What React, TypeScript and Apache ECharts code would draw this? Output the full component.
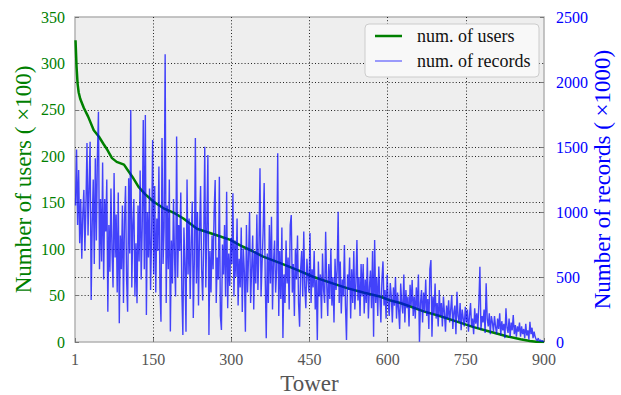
import React, { useEffect, useRef } from "react";
import * as echarts from "echarts";

// Green series: number of users (x100), [tower, value]
const usersData: [number, number][] = [
  [1, 325], [3, 296], [5, 278], [7, 269], [10, 262], [17, 252], [25, 243], [36, 228],
  [46, 221], [55, 213], [62, 207], [71, 198], [80, 194], [94, 191], [100, 186], [110, 178],
  [122, 167], [135, 159], [151, 151], [170, 144], [190, 139], [208, 133], [234, 122],
  [272, 115], [298, 110], [317, 104], [340, 98], [361, 92], [394, 85], [425, 78], [458, 70],
  [490, 64], [522, 58], [555, 53], [585, 49], [604, 45], [624, 42], [645, 38], [669, 33],
  [700, 28], [733, 22], [765, 16], [797, 11], [830, 6], [855, 3], [873, 1], [885, 0.3], [900, 0],
];

// Blue series: number of records (x1000), one value every 2 towers starting at tower 1
const recordsValues: number[] = [
  1050, 1480, 900, 1323, 760, 1100, 640, 980, 1170, 700, 1050, 1530, 820, 1200, 1541, 323, 900, 1250, 600, 1413, 780, 1438, 1771, 560, 1100,
  620, 1380, 480, 1100, 850, 1250, 233, 900, 540, 1180, 700, 420, 1300, 650, 980, 380, 1150, 144, 820, 560, 1050, 300, 940, 1200, 480,
  233, 1259, 680, 1785, 420, 900, 1100, 350, 760, 298, 1050, 620, 1320, 480, 880, 1708, 560, 1746, 208, 1000, 650, 1180, 400, 820, 1554,
  520, 1200, 380, 950, 700, 1350, 420, 156, 1570, 600, 880, 2213, 300, 1050, 560, 1250, 80, 780, 450, 1100, 650, 350, 1580, 500, 900,
  700, 1150, 400, 54, 880, 600, 79, 1250, 520, 950, 330, 760, 1080, 185, 620, 1569, 450, 1000, 280, 850, 1200, 560, 320, 780, 1502,
  420, 900, 1438, 54, 700, 380, 820, 560, 1000, 1246, 300, 650, 480, 1272, 200, 92, 750, 520, 900, 350, 1156, 260, 680, 430, 800,
  600, 1144, 350, 780, 500, 950, 280, 640, 420, 880, 230, 720, 540, 79, 900, 380, 650, 1000, 300, 560, 820, 250, 700, 450, 980,
  400, 720, 1336, 350, 600, 850, 1223, 500, 28, 680, 300, 900, 450, 964, 250, 620, 780, 380, 560, 1451, 200, 700, 330, 880, 31,
  520, 300, 780, 450, 650, 250, 900, 977, 380, 600, 200, 720, 480, 820, 300, 118, 560, 700, 350, 850, 420, 260, 640, 500, 380,
  838, 300, 560, 420, 700, 250, 480, 15, 620, 350, 520, 180, 680, 400, 300, 848, 450, 200, 600, 330, 720, 280, 500, 150, 640,
  400, 550, 1002, 300, 620, 220, 480, 350, 746, 280, 15, 520, 400, 650, 180, 560, 300, 700, 250, 450, 785, 320, 500, 200, 600,
  350, 600, 220, 480, 300, 650, 180, 420, 550, 260, 700, 41, 785, 300, 500, 200, 580, 350, 150, 480, 620, 280, 400, 180, 520,
  300, 200, 454, 350, 150, 420, 280, 500, 180, 380, 250, 100, 450, 300, 220, 520, 150, 400, 260, 350, 120, 440, 280, 477, 200,
  350, 180, 420, 250, 520, 2, 300, 400, 150, 380, 230, 480, 200, 330, 100, 560, 631, 41, 350, 220, 450, 180, 300, 120, 400,
  200, 300, 120, 350, 220, 80, 280, 180, 320, 150, 250, 361, 100, 230, 280, 60, 387, 200, 150, 300, 90, 250, 180, 120, 270,
  150, 250, 80, 200, 300, 120, 180, 60, 260, 140, 220, 100, 300, 579, 90, 200, 150, 250, 70, 451, 180, 120, 220, 60, 200,
  150, 80, 200, 120, 60, 180, 100, 220, 50, 160, 90, 140, 30, 259, 110, 70, 180, 40, 150, 90, 208, 60, 130, 40, 120,
  80, 150, 40, 120, 60, 100, 30, 140, 50, 90, 20, 156, 60, 110, 30, 80, 40, 20, 10, 30, 5, 15, 5, 10, 0,
];
const recordsStart = 1;
const recordsStep = 2;

const xTicks = [0, 150, 300, 450, 600, 750, 900];
const leftTicks = [0, 50, 100, 150, 200, 250, 300, 350];
const rightTicks = [0, 500, 1000, 1500, 2000, 2500];

const legendLabels = ["num. of users", "num. of records"];

const FONT = "'Liberation Serif', 'DejaVu Serif', serif";
const GREEN = "#008000";
const BLUE = "#0000ff";

export default function App() {
  const ref = useRef<HTMLDivElement>(null);

  useEffect(() => {
    if (!ref.current) return;
    const chart = echarts.init(ref.current, undefined, { renderer: "svg" });
    const recordsData = recordsValues.map((v, i) => [recordsStart + i * recordsStep, v]);
    const dotted = { type: [1, 2.2] as any, color: "#222", width: 1 };

    chart.setOption({
      animation: false,
      backgroundColor: "#ffffff",
      grid: {
        left: 75,
        right: 77,
        top: 17,
        bottom: 53,
        containLabel: false,
        outerBoundsMode: "none",
        show: true,
        backgroundColor: "#eeeeee",
        borderColor: "#b3b3b3",
        borderWidth: 1.5,
      },
      xAxis: {
        type: "value",
        min: xTicks[0],
        max: xTicks[xTicks.length - 1],
        interval: 150,
        name: "Tower",
        nameLocation: "middle",
        nameGap: 30,
        nameMoveOverlap: false,
        nameTextStyle: { fontFamily: FONT, fontSize: 23, color: "#555555" },
        axisLine: { show: false },
        axisTick: { show: true, inside: true, length: 4, lineStyle: { color: "#777" } },
        axisLabel: {
          fontFamily: FONT,
          fontSize: 16,
          color: "#555555",
          margin: 9,
          formatter: (v: number) => (v === 0 ? "1" : String(v)),
        },
        splitLine: { show: true, showMinLine: false, showMaxLine: false, lineStyle: dotted },
      },
      yAxis: [
        {
          type: "value",
          min: leftTicks[0],
          max: leftTicks[leftTicks.length - 1],
          interval: 50,
          position: "left",
          name: "Number of users ( ×100)",
          nameLocation: "middle",
          nameGap: 40,
          nameMoveOverlap: false,
          nameTextStyle: { fontFamily: FONT, fontSize: 23, color: GREEN },
          axisLine: { show: false },
          axisTick: { show: true, inside: true, length: 4, lineStyle: { color: "#777" } },
          axisLabel: { fontFamily: FONT, fontSize: 16, color: GREEN, margin: 10, formatter: (v: number) => String(v) },
          splitLine: { show: true, showMinLine: false, showMaxLine: false, lineStyle: dotted },
        },
        {
          type: "value",
          min: rightTicks[0],
          max: rightTicks[rightTicks.length - 1],
          interval: 500,
          position: "right",
          name: "Number of records ( ×1000)",
          nameLocation: "middle",
          nameGap: 47,
          nameMoveOverlap: false,
          nameTextStyle: { fontFamily: FONT, fontSize: 23, color: BLUE },
          axisLine: { show: false },
          axisTick: { show: true, inside: true, length: 4, lineStyle: { color: "#777" } },
          axisLabel: { fontFamily: FONT, fontSize: 16, color: BLUE, margin: 12, formatter: (v: number) => String(v) },
          splitLine: { show: true, showMinLine: false, showMaxLine: false, lineStyle: dotted },
        },
      ],
      series: [
        {
          name: legendLabels[0],
          type: "line",
          yAxisIndex: 0,
          data: usersData,
          symbol: "none",
          z: 2,
          lineStyle: { color: GREEN, width: 2.5 },
        },
        {
          name: legendLabels[1],
          type: "line",
          yAxisIndex: 1,
          data: recordsData,
          symbol: "none",
          z: 3,
          lineStyle: { color: BLUE, width: 1.4, opacity: 0.72 },
        },
      ],
      graphic: [
        {
          type: "rect",
          z: 100,
          shape: { x: 365, y: 24, width: 174, height: 53, r: 4 },
          style: { fill: "#f8f8f8", stroke: "#cccccc", lineWidth: 1 },
        },
        {
          type: "line",
          z: 101,
          shape: { x1: 375, y1: 36, x2: 402, y2: 36 },
          style: { stroke: GREEN, lineWidth: 2.5 },
        },
        {
          type: "line",
          z: 101,
          shape: { x1: 375, y1: 61, x2: 402, y2: 61 },
          style: { stroke: BLUE, lineWidth: 1.4, opacity: 0.55 },
        },
        {
          type: "text",
          z: 101,
          x: 417,
          y: 36,
          style: {
            text: legendLabels[0],
            font: `18px ${FONT}`,
            fill: "#111",
            verticalAlign: "middle",
            align: "left",
          },
        },
        {
          type: "text",
          z: 101,
          x: 417,
          y: 61,
          style: {
            text: legendLabels[1],
            font: `18px ${FONT}`,
            fill: "#111",
            verticalAlign: "middle",
            align: "left",
          },
        },
      ],
    });

    return () => chart.dispose();
  }, []);

  return (
    <div
      ref={ref}
      style={{ position: "fixed", left: 0, top: 0, width: 621, height: 395 }}
    />
  );
}
